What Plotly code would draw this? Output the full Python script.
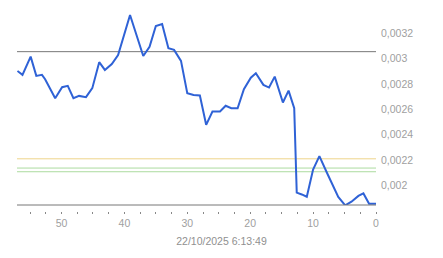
import plotly.graph_objects as go

# minutes ago (x) and price (y)
x_vals = [57.0, 56.2, 54.9, 54.0, 53.1, 52.6, 51.0, 49.9, 49.0, 48.1, 47.2, 46.1, 45.1,
          44.0, 43.1, 42.0, 41.0, 39.1, 37.0, 36.0, 35.0, 34.0, 33.0, 32.1, 31.0, 30.0,
          29.0, 28.0, 27.0, 26.0, 24.8, 23.9, 23.0, 22.0, 21.0, 19.9, 19.1, 17.9, 17.0,
          16.1, 14.8, 13.9, 13.0, 12.6, 11.8, 11.0, 10.0, 9.0, 7.8, 6.7, 6.0, 4.9, 3.9,
          2.8, 2.0, 1.1, 0.0]
y_vals = [0.002903, 0.002872, 0.003016, 0.002864, 0.002872, 0.002838, 0.002688, 0.002775,
          0.002785, 0.002688, 0.002706, 0.002696, 0.002767, 0.002972, 0.002911, 0.002958,
          0.003029, 0.003344, 0.003021, 0.003094, 0.003257, 0.003273, 0.003082, 0.003069,
          0.002982, 0.002728, 0.002714, 0.002709, 0.002478, 0.002583, 0.002583, 0.002628,
          0.002609, 0.002609, 0.002759, 0.002850, 0.002885, 0.002793, 0.002772, 0.002858,
          0.002654, 0.002748, 0.002609, 0.001943, 0.001929, 0.001911, 0.002126, 0.002231,
          0.002100, 0.001982, 0.001909, 0.001843, 0.001872, 0.001917, 0.001937, 0.001856,
          0.001856]

ref_values = [0.003055, 0.00221, 0.002137, 0.002108]
ref_colors = ["#777777", "#eed48a", "#acdb9f", "#acdb9f"]

x_tickvals = [50, 40, 30, 20, 10, 0]
x_title = "22/10/2025 6:13:49"
y_tickvals = [0.002, 0.0022, 0.0024, 0.0026, 0.0028, 0.003, 0.0032]

fig = go.Figure()
fig.add_trace(go.Scatter(x=x_vals, y=y_vals, mode="lines",
                         line=dict(color="#2f62d6", width=2), hoverinfo="skip"))

for v, c in zip(ref_values, ref_colors):
    fig.add_shape(type="line", xref="x domain", yref="y", x0=0, x1=1, y0=v, y1=v,
                  line=dict(color=c, width=1), layer="below")

# baseline
fig.add_shape(type="line", xref="x domain", yref="y domain", x0=0, x1=1, y0=0, y1=0,
              line=dict(color="#777777", width=1))

tick_font = dict(family="Liberation Sans, Arial, sans-serif", size=10.5, color="#a0a0a0")

fig.update_layout(
    width=443, height=258,
    margin=dict(l=17, r=67, t=10, b=47),
    paper_bgcolor="white", plot_bgcolor="white",
    separators=", ",
    showlegend=False,
    title=dict(text=x_title, xref="container", yref="container", x=0.5, y=17 / 258,
               xanchor="center", yanchor="middle",
               font=dict(family="Liberation Sans, Arial, sans-serif", size=10.5, color="#909090")),
    xaxis=dict(range=[57.07, 0], anchor="free", position=0,
               tickvals=x_tickvals, ticks="outside", ticklen=2, tickcolor="#888888",
               minor=dict(dtick=2.5, tick0=0, ticks="outside", ticklen=2, tickcolor="#888888"),
               showgrid=False, zeroline=False, showline=False,
               tickfont=tick_font),
    yaxis=dict(domain=[6 / 201, 1], range=[0.0018457, 0.0033835], side="right",
               tickvals=y_tickvals, tickformat=".4~f", ticks="", ticklabelstandoff=4,
               showgrid=False, zeroline=False, showline=False,
               tickfont=tick_font),
)

fig.write_html("out.html")
